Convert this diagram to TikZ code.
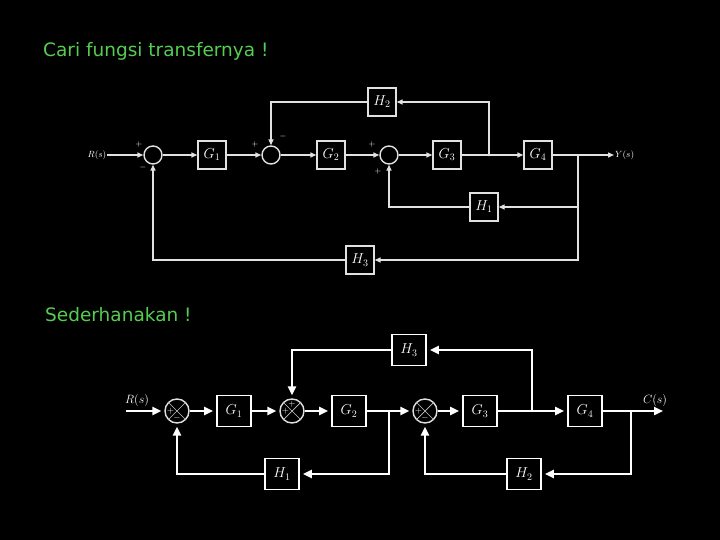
\documentclass[tikz,border=0pt]{standalone}
\usepackage{fontspec}
\newfontfamily\greenfont{DejaVu Sans}
\usetikzlibrary{arrows.meta,calc}
\definecolor{txtgreen}{RGB}{85,205,80}
\definecolor{linegray}{RGB}{225,225,225}
\begin{document}
\begin{tikzpicture}[x=1pt,y=-1pt,
  topline/.style={draw=linegray,line width=1.4pt},
  toparrow/.style={topline,-{Triangle[length=6pt,width=5pt]}},
  topbox/.style={draw=linegray,line width=1.4pt,minimum width=28pt,minimum height=28pt,inner sep=0pt,text=white,font=\Large},
  topsum/.style={circle,draw=linegray,line width=1.4pt,minimum size=18pt,inner sep=0pt},
  topsign/.style={text=white,font=\footnotesize,inner sep=0pt},
  botline/.style={draw=white,line width=2.6pt},
  botarrow/.style={botline,-{Triangle[length=9pt,width=8pt]},shorten >=3pt},
  botbox/.style={draw=white,line width=1.8pt,minimum width=34pt,minimum height=31pt,inner sep=0pt,text=white,font=\Large},
  botsum/.style={circle,draw=white!75!gray,line width=1.4pt,minimum size=24pt,inner sep=0pt},
  botsign/.style={text=white,font=\small\bfseries,inner sep=0pt},
  greentext/.style={text=txtgreen,font=\greenfont\fontsize{18.5}{20}\selectfont,anchor=west,inner sep=0pt}
]
\fill[black] (0,0) rectangle (720,540);
\useasboundingbox (0,0) rectangle (720,540);

% titles
\node[greentext] (t1) at (43,51) {Cari fungsi transfernya !};
\node[greentext] (t2) at (45,315) {Sederhanakan !};

% ---------------- top diagram ----------------
\node[text=white,font=\small,inner sep=1pt] (R) at (97,155) {$R(s)$};
\node[topsum] (s1) at (153,155) {};
\node[topbox] (G1) at (212,155) {$G_1$};
\node[topsum] (s2) at (271,155) {};
\node[topbox] (G2) at (331,155) {$G_2$};
\node[topsum] (s3) at (389,155) {};
\node[topbox] (G3) at (447,155) {$G_3$};
\coordinate (k1) at (489,155);
\node[topbox] (G4) at (538,155) {$G_4$};
\coordinate (k2) at (578,155);
\node[text=white,font=\small,inner sep=1pt,anchor=west] (Y) at (614,155) {$Y(s)$};
\node[topbox] (H2) at (382,102) {$H_2$};
\node[topbox] (H1) at (484,207) {$H_1$};
\node[topbox] (H3) at (360,260) {$H_3$};

\draw[toparrow] (R) -- (s1);
\draw[toparrow] (s1) -- (G1);
\draw[toparrow] (G1) -- (s2);
\draw[toparrow] (s2) -- (G2);
\draw[toparrow] (G2) -- (s3);
\draw[toparrow] (s3) -- (G3);
\draw[toparrow] (G3) -- (G4);
\draw[toparrow] (G4) -- (Y);
\draw[toparrow] (k1) |- (H2.east);
\draw[toparrow] (H2.west) -| (s2.north);
\draw[toparrow] (k2) |- (H1.east);
\draw[toparrow] (H1.west) -| (s3.south);
\draw[toparrow] (k2) |- (H3.east);
\draw[toparrow] (H3.west) -| (s1.south);
\fill[linegray] (k1) circle (1.3pt);

\node[topsign] (p1a) at (139,145) {$+$};
\node[topsign] (p1b) at (143,168) {$-$};
\node[topsign] (p2a) at (255,145) {$+$};
\node[topsign] (p2b) at (283,137) {$-$};
\node[topsign] (p3a) at (372,145) {$+$};
\node[topsign] (p3b) at (378,172) {$+$};

% ---------------- bottom diagram ----------------
\node[text=white,font=\large,inner sep=1pt] (Rb) at (137,400) {$R(s)$};
\coordinate (Rin) at (126,411);
\node[botsum] (b1) at (177,411) {};
\node[botbox] (B1) at (234,411) {$G_1$};
\node[botsum] (b2) at (292,411) {};
\node[botbox] (B2) at (349,411) {$G_2$};
\coordinate (c1) at (389,411);
\node[botsum] (b3) at (425,411) {};
\node[botbox] (B3) at (480,411) {$G_3$};
\coordinate (c2) at (532,411);
\node[botbox] (B4) at (585,411) {$G_4$};
\coordinate (c3) at (631,411);
\coordinate (Cout) at (666,411);
\node[text=white,font=\large,inner sep=1pt] (Cb) at (655,400) {$C(s)$};
\node[botbox] (K3) at (409,350) {$H_3$};
\node[botbox] (K1) at (282,474) {$H_1$};
\node[botbox] (K2) at (524,474) {$H_2$};

\foreach \s in {b1,b2,b3}{
  \draw[white!55!gray,line width=0.7pt] (\s.45) -- (\s.225) (\s.135) -- (\s.315);
}

\draw[botarrow] (Rin) -- (b1);
\draw[botarrow] (b1) -- (B1);
\draw[botarrow] (B1) -- (b2);
\draw[botarrow] (b2) -- (B2);
\draw[botarrow] (B2) -- (b3);
\draw[botarrow] (b3) -- (B3);
\draw[botarrow] (B3) -- (B4);
\draw[botarrow] (B4) -- (Cout);
\draw[botarrow] (c2) |- (K3.east);
\draw[botarrow] (K3.west) -| (b2.north);
\draw[botarrow] (c1) |- (K1.east);
\draw[botarrow] (K1.west) -| (b1.south);
\draw[botarrow] (c3) |- (K2.east);
\draw[botarrow] (K2.west) -| (b3.south);

\node[botsign] (q1a) at ($(b1)+(-6.5,0)$) {$+$};
\node[botsign] (q1b) at ($(b1)+(0,7)$) {$-$};
\node[botsign] (q2a) at ($(b2)+(-6.5,0)$) {$+$};
\node[botsign] (q2b) at ($(b2)+(0,-6.5)$) {$+$};
\node[botsign] (q3a) at ($(b3)+(-6.5,0)$) {$+$};
\node[botsign] (q3b) at ($(b3)+(0,7)$) {$-$};
\end{tikzpicture}
\end{document}
